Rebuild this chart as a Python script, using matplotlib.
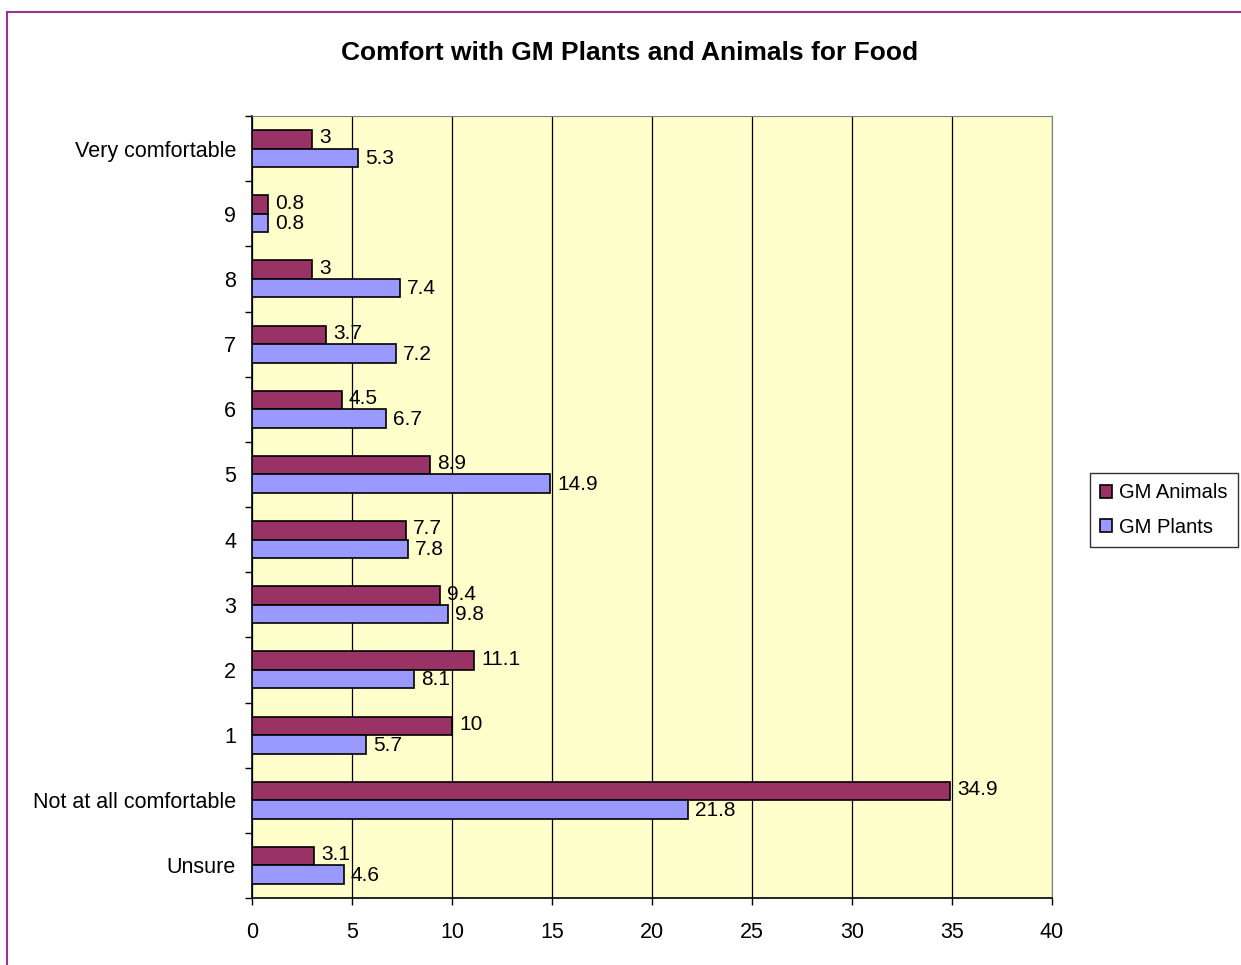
import numpy as np
import matplotlib
matplotlib.use("Agg")
import matplotlib.pyplot as plt
from matplotlib.patches import Rectangle

plt.rcParams['font.family'] = ['Liberation Sans', 'DejaVu Sans']

# Data (bottom to top)
categories = ['Unsure', 'Not at all comfortable', '1', '2', '3', '4', '5',
              '6', '7', '8', '9', 'Very comfortable']
gm_animals = [3.1, 34.9, 10, 11.1, 9.4, 7.7, 8.9, 4.5, 3.7, 3, 0.8, 3]
gm_plants = [4.6, 21.8, 5.7, 8.1, 9.8, 7.8, 14.9, 6.7, 7.2, 7.4, 0.8, 5.3]
x_ticks = [0, 5, 10, 15, 20, 25, 30, 35, 40]

fig = plt.figure(figsize=(12.41, 9.65), dpi=100)
fig.patch.set_facecolor('white')

# purple chart border (left and top visible)
fig.add_artist(Rectangle((7 / 1241, -0.5), 1.5, 1.5 - 12 / 965,
                         transform=fig.transFigure, fill=False,
                         edgecolor='#993399', linewidth=1.5))

ax = fig.add_axes([252 / 1241, 1 - 898 / 965, 800 / 1241, 782 / 965])
ax.set_facecolor('#FFFFCC')

y = np.arange(len(categories))
h = 0.285
b1 = ax.barh(y + h / 2, gm_animals, height=h, color='#993366',
             edgecolor='black', linewidth=1.2, label='GM Animals', zorder=3)
b2 = ax.barh(y - h / 2, gm_plants, height=h, color='#9999FF',
             edgecolor='black', linewidth=1.2, label='GM Plants', zorder=3)

# value labels, nudged slightly apart like the original
for bars, vals, dy in ((b1, gm_animals, 1), (b2, gm_plants, -0.5)):
    for bar, v in zip(bars, vals):
        ax.annotate(f'{v:g}', (bar.get_width(), bar.get_y() + bar.get_height() / 2),
                    xytext=(5, dy), textcoords='offset points',
                    va='center', ha='left', fontsize=15, zorder=4)

ax.set_xlim(0, 40)
ax.set_ylim(-0.5, len(categories) - 0.5)
ax.set_xticks(x_ticks)
ax.set_yticks(y)
ax.set_yticklabels(categories)
ax.set_yticks(np.arange(-0.5, len(categories), 1), minor=True)
ax.tick_params(axis='y', which='major', length=0, pad=11.5, labelsize=15.5)
ax.tick_params(axis='y', which='minor', length=5, width=1, direction='out')
ax.tick_params(axis='x', length=5, width=1, direction='out', pad=12, labelsize=15.5)

ax.xaxis.grid(True, color='black', linewidth=0.9, zorder=1)
ax.set_axisbelow(True)
for s in ('top', 'right'):
    ax.spines[s].set_color('#808080')
for s in ('left', 'bottom'):
    ax.spines[s].set_color('black')
    ax.spines[s].set_linewidth(1.2)

fig.text(630 / 1241, 1 - 53 / 965, 'Comfort with GM Plants and Animals for Food',
         ha='center', va='center', fontsize=19, fontweight='bold')

leg = fig.legend(handles=[b1, b2], loc='center left',
                 bbox_to_anchor=(1090 / 1241, 1 - 510 / 965),
                 frameon=True, fancybox=False, fontsize=14.5,
                 handlelength=0.6, handleheight=0.6, handletextpad=0.35,
                 borderpad=0.5, labelspacing=0.75, borderaxespad=0)
leg.get_frame().set_edgecolor('black')
leg.get_frame().set_linewidth(1)

fig.savefig('out.png', dpi=100)
